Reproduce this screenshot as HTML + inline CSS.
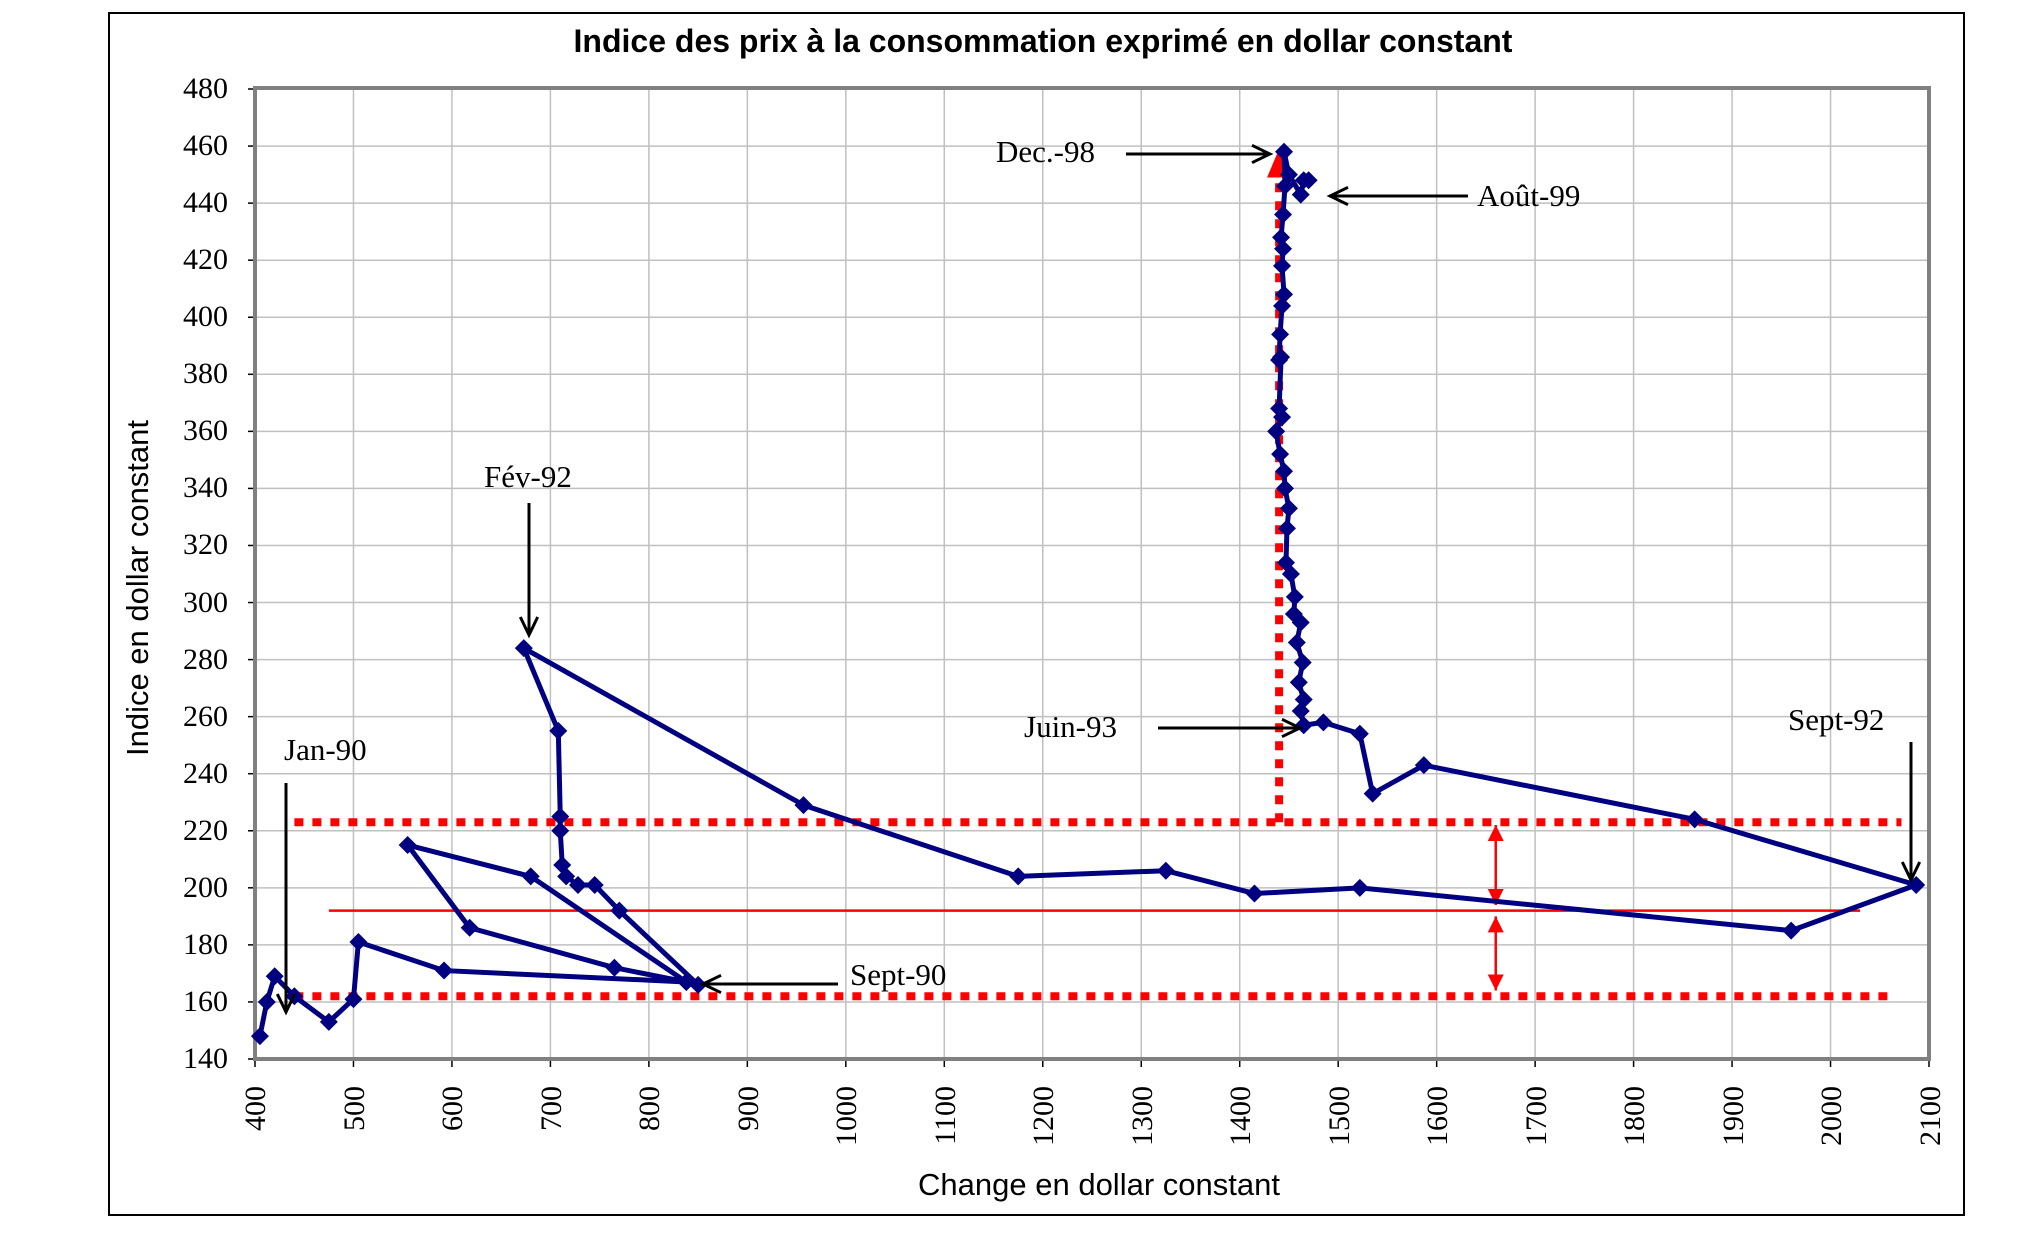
<!DOCTYPE html>
<html><head><meta charset="utf-8"><style>
html,body{margin:0;padding:0;background:#fff;}
svg{display:block;}
.t{font-family:"Liberation Serif",serif;font-size:30px;fill:#000;}
.n{font-family:"Liberation Serif",serif;font-size:31px;fill:#000;}
.a{font-family:"Liberation Sans",sans-serif;fill:#000;}
</style></head><body>
<svg id="s" width="2022" height="1234" xmlns="http://www.w3.org/2000/svg">
<rect x="109" y="13" width="1855" height="1202" fill="#fff" stroke="#000" stroke-width="2"/>
<text class="a" x="1043" y="52" font-size="32" font-weight="bold" text-anchor="middle">Indice des prix à la consommation exprimé en dollar constant</text>
<g id="grid"></g>
<rect x="255" y="88" width="1674" height="971" fill="none" stroke="#808080" stroke-width="4"/>
<g class="t" text-anchor="end">
<text x="228" y="98">480</text><text x="228" y="155">460</text><text x="228" y="212">440</text><text x="228" y="269">420</text>
<text x="228" y="326">400</text><text x="228" y="383">380</text><text x="228" y="440">360</text><text x="228" y="497">340</text>
<text x="228" y="554">320</text><text x="228" y="612">300</text><text x="228" y="669">280</text><text x="228" y="726">260</text>
<text x="228" y="783">240</text><text x="228" y="840">220</text><text x="228" y="897">200</text><text x="228" y="954">180</text>
<text x="228" y="1011">160</text><text x="228" y="1068">140</text>
</g>
<g class="t" text-anchor="end" id="xl">
<text transform="translate(265,1086) rotate(-90)">400</text>
<text transform="translate(364,1086) rotate(-90)">500</text>
<text transform="translate(462,1086) rotate(-90)">600</text>
<text transform="translate(561,1086) rotate(-90)">700</text>
<text transform="translate(659,1086) rotate(-90)">800</text>
<text transform="translate(758,1086) rotate(-90)">900</text>
<text transform="translate(856,1086) rotate(-90)">1000</text>
<text transform="translate(955,1086) rotate(-90)">1100</text>
<text transform="translate(1053,1086) rotate(-90)">1200</text>
<text transform="translate(1152,1086) rotate(-90)">1300</text>
<text transform="translate(1250,1086) rotate(-90)">1400</text>
<text transform="translate(1349,1086) rotate(-90)">1500</text>
<text transform="translate(1447,1086) rotate(-90)">1600</text>
<text transform="translate(1546,1086) rotate(-90)">1700</text>
<text transform="translate(1644,1086) rotate(-90)">1800</text>
<text transform="translate(1743,1086) rotate(-90)">1900</text>
<text transform="translate(1841,1086) rotate(-90)">2000</text>
<text transform="translate(1940,1086) rotate(-90)">2100</text>
</g>
<text class="a" font-size="31" transform="translate(148,588) rotate(-90)" text-anchor="middle">Indice en dollar constant</text>
<text class="a" font-size="31" x="1099" y="1195" text-anchor="middle">Change en dollar constant</text>
<g id="red"></g>
<g id="data"></g>
<g id="ann" stroke="#000" stroke-width="3" fill="none"></g>
<g class="n">
<text x="996" y="162">Dec.-98</text>
<text x="1477" y="206">Août-99</text>
<text x="484" y="487">Fév-92</text>
<text x="284" y="760">Jan-90</text>
<text x="1024" y="737">Juin-93</text>
<text x="1788" y="730">Sept-92</text>
<text x="850" y="985">Sept-90</text>
</g>
</svg>
<script>
var NS="http://www.w3.org/2000/svg";
function X(v){return 255+(v-400)*0.98471;}
function Y(v){return 1059-(v-140)*2.8529;}
function el(p,t,a){var e=document.createElementNS(NS,t);for(var k in a)e.setAttribute(k,a[k]);document.getElementById(p).appendChild(e);return e;}
for(var v=500;v<=2000;v+=100)el("grid","line",{x1:X(v),x2:X(v),y1:88,y2:1059,stroke:"#c0c0c0","stroke-width":1.5});
for(var v=160;v<=460;v+=20)el("grid","line",{x1:255,x2:1929,y1:Y(v),y2:Y(v),stroke:"#c0c0c0","stroke-width":1.5});
for(var v=140;v<=480;v+=20)el("grid","line",{x1:248,x2:255,y1:Y(v),y2:Y(v),stroke:"#000","stroke-width":1.5});
for(var v=400;v<=2100;v+=100)el("grid","line",{x1:X(v),x2:X(v),y1:1059,y2:1067,stroke:"#000","stroke-width":1.5});
var dot={stroke:"#f00","stroke-width":8,"stroke-dasharray":"9 9"};
function L(p,a,b,c,d,o){var q={x1:a,y1:b,x2:c,y2:d};for(var k in o)q[k]=o[k];return el(p,"line",q);}
L("red",X(440),Y(223),X(2072),Y(223),dot);
L("red",X(440),Y(162),X(2066),Y(162),dot);
L("red",X(1440),Y(223),X(1440),Y(452),dot);
el("red","polygon",{points:[X(1440)-12,Y(449),X(1440)+12,Y(449),X(1440),Y(459)].join(","),fill:"#f00"});
L("red",X(475),Y(192),X(2030),Y(192),{stroke:"#f00","stroke-width":2.5});
function dbl(y1,y2){var x=X(1660);L("red",x,Y(y1),x,Y(y2),{stroke:"#f00","stroke-width":2.5});
el("red","polygon",{points:[x-8,Y(y1)+16,x+8,Y(y1)+16,x,Y(y1)].join(","),fill:"#f00"});
el("red","polygon",{points:[x-8,Y(y2)-16,x+8,Y(y2)-16,x,Y(y2)].join(","),fill:"#f00"});}
dbl(222,194);dbl(190,164);
var d=[[405,148],[412,160],[420,169],[440,162],[475,153],[500,161],[505,181],[592,171],[838,167],[765,172],[618,186],[555,215],[680,204],[838,167],[850,166],[770,192],[745,201],[728,201],[716,204],[712,208],[710,220],[710,225],[708,255],[673,284],[957,229],[1175,204],[1325,206],[1415,198],[1522,200],[1960,185],[2087,201],[1862,224],[1587,243],[1535,233],[1522,254],[1485,258],[1465,257],[1462,262],[1465,266],[1460,272],[1464,279],[1458,286],[1462,293],[1455,296],[1456,302],[1452,310],[1447,314],[1448,326],[1450,333],[1446,340],[1445,346],[1441,352],[1437,360],[1443,365],[1440,368],[1442,386],[1440,385],[1441,394],[1443,404],[1445,408],[1443,418],[1444,424],[1442,428],[1444,436],[1446,446],[1445,458],[1450,450],[1462,443],[1465,448],[1470,448]];
var pts=d.map(function(p){return X(p[0])+","+Y(p[1]);}).join(" ");
el("data","polyline",{points:pts,fill:"none",stroke:"#000080","stroke-width":5,"stroke-linejoin":"round"});
d.forEach(function(p){var x=X(p[0]),y=Y(p[1]),r=9;el("data","polygon",{points:[x,y-r,x+r,y,x,y+r,x-r,y].join(","),fill:"#000080"});});
function arr(x1,y1,x2,y2){L("ann",x1,y1,x2,y2,{});var a=Math.atan2(y2-y1,x2-x1),l=20,w=0.45;
el("ann","polyline",{points:[x2-l*Math.cos(a-w),y2-l*Math.sin(a-w),x2,y2,x2-l*Math.cos(a+w),y2-l*Math.sin(a+w)].join(",")});}
arr(1126,154,1270,154);arr(1468,196,1330,196);arr(529,503,529,635);arr(286,783,286,1012);arr(1158,728,1300,728);arr(1911,742,1911,880);arr(838,984,703,984);
</script>
</body></html>
